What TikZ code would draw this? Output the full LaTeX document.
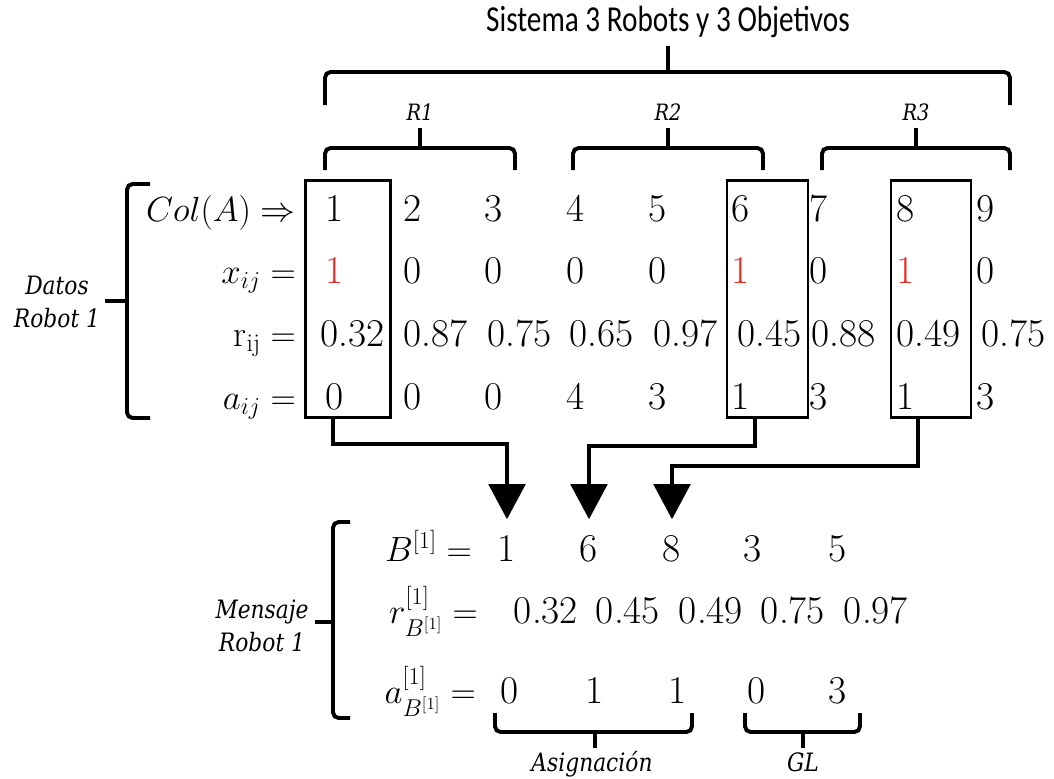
\documentclass[tikz,border=0pt]{standalone}
\usepackage{amsmath}
\usepackage{fontspec}
\setsansfont{Carlito}
\newfontfamily\tagfont{DejaVu Serif}
\usetikzlibrary{arrows.meta, positioning}

\definecolor{pickred}{RGB}{230,40,30}
\newcommand{\narrow}[1]{\scalebox{0.8}[1]{#1}}
\newcommand{\slim}[1]{\scalebox{0.86}[1]{#1}}

\begin{document}
\begin{tikzpicture}[x=0.025cm, y=-0.025cm]
    \tikzset{
        val/.style={anchor=base west, inner sep=0pt, font=\fontsize{28}{32}\selectfont},
        msg/.style={anchor=base, inner sep=0pt, font=\fontsize{28}{32}\selectfont},
        lbl/.style={anchor=base east, inner sep=0pt, font=\fontsize{26}{30}\selectfont},
        tag/.style={inner sep=0pt, align=center, font=\tagfont\itshape\fontsize{18}{23}\selectfont},
        rtag/.style={tag, font=\tagfont\itshape\fontsize{16}{20}\selectfont},
        sel/.style={draw, line width=2pt, minimum height=169pt, inner sep=0pt},
        brc/.style={line width=2.8pt, rounded corners=4pt},
        link/.style={line width=2.8pt, -{Triangle[length=25pt,width=26pt]}, shorten >=11pt}
    }
    \useasboundingbox (0,0) rectangle (1054,778);

    % title and robot braces
    \node[font=\sffamily\fontsize{26}{30}\selectfont] (title) at (668,22) {\narrow{Sistema 3 Robots y 3 Objetivos}};
    \draw[brc] (325,105) |- (668,72) -| (1010,105);
    \draw[brc] (668,72) -- (668,46);
    \node[rtag] (R1) at (420,112) {\slim{R1}};
    \node[rtag] (R2) at (668,112) {\slim{R2}};
    \node[rtag] (R3) at (916,112) {\slim{R3}};
    \draw[brc] (325,170) |- (420,148) -| (515,170);
    \draw[brc] (420,148) -- (420,128);
    \draw[brc] (573,170) |- (668,148) -| (763,170);
    \draw[brc] (668,148) -- (668,128);
    \draw[brc] (822,170) |- (916,148) -| (1010,170);
    \draw[brc] (916,148) -- (916,128);

    % data of robot 1
    \node[tag] (datos) at (57,302) {\slim{Datos}\\\slim{Robot 1}};
    \draw[brc] (150,184) -| (127,301) |- (150,418);
    \draw[brc] (127,301) -- (105,301);

    \node[lbl] (colA) at (296,221) {$Col(A)\Rightarrow$};
    \node[lbl] (xij) at (296,283) {$x_{ij} =$};
    \node[lbl] (rij) at (296,346) {$\mathrm{r}_{\mathrm{ij}} =$};
    \node[lbl] (aij) at (296,409) {$a_{ij} =$};

    \foreach \x [count=\i] in {325,403,484,566,648,731,809,896,976}
        \node[val] (c\i) at (\x,221) {\i};
    \foreach \x/\v [count=\i] in {325/\textcolor{pickred}{1},403/0,484/0,566/0,648/0,
                                   731/\textcolor{pickred}{1},809/0,896/\textcolor{pickred}{1},976/0}
        \node[val] (x\i) at (\x,283) {\v};
    \foreach \x/\v [count=\i] in {320/0.32,403/0.87,487/0.75,569/0.65,653/0.97,
                                   737/0.45,811/0.88,896/0.49,981/0.75}
        \node[val] (r\i) at (\x,346) {\v};
    \foreach \x/\v [count=\i] in {325/0,403/0,484/0,566/4,648/3,731/1,809/3,896/1,976/3}
        \node[val] (a\i) at (\x,409) {\v};

    % selected columns
    \node[sel, minimum width=60pt] (box1) at (348,299) {};
    \node[sel, minimum width=57.5pt] (box6) at (767.5,299) {};
    \node[sel, minimum width=57pt] (box8) at (931,299) {};

    % message of robot 1
    \node[tag] (mensaje) at (262,626) {\slim{Mensaje}\\\slim{Robot 1}};
    \draw[brc] (350,522) -| (333,622) |- (350,718);
    \draw[brc] (333,622) -- (315,622);

    \node[lbl] (Bl) at (472,561) {$B^{[1]} =$};
    \node[lbl] (rl) at (478,623) {$r^{[1]}_{B^{[1]}} =$};
    \node[lbl] (al) at (476,703) {$a^{[1]}_{B^{[1]}} =$};

    \foreach \x/\v in {507/1,589/6,672/8,753/3,838/5}
        \node[msg] (b\v) at (\x,561) {\v};
    \foreach \x/\v [count=\i] in {546/0.32,628/0.45,711/0.49,793/0.75,876/0.97}
        \node[msg] (m\i) at (\x,623) {\v};
    \foreach \x/\v [count=\i] in {510/0,595/1,678/1,757/0,838/3}
        \node[msg] (n\i) at (\x,703) {\v};

    \draw[link] ([xshift=-11pt]box1.south) -- ++(0,25) -| (b1.north);
    \draw[link] ([xshift=-9pt]box6.south) -- ++(0,27) -| (b6.north);
    \draw[link] ([xshift=-9pt]box8.south) -- ++(0,47) -| (b8.north);

    % assignment and free part
    \draw[brc] (495,713) |- (595,732) -| (692,713);
    \draw[brc] (595,732) -- (595,748);
    \draw[brc] (745,713) |- (803,732) -| (860,713);
    \draw[brc] (803,732) -- (803,748);
    \node[tag, anchor=base] (asig) at (592,771) {\slim{Asignación}};
    \node[tag, anchor=base] (gl) at (803,771) {\slim{GL}};
\end{tikzpicture}
\end{document}
